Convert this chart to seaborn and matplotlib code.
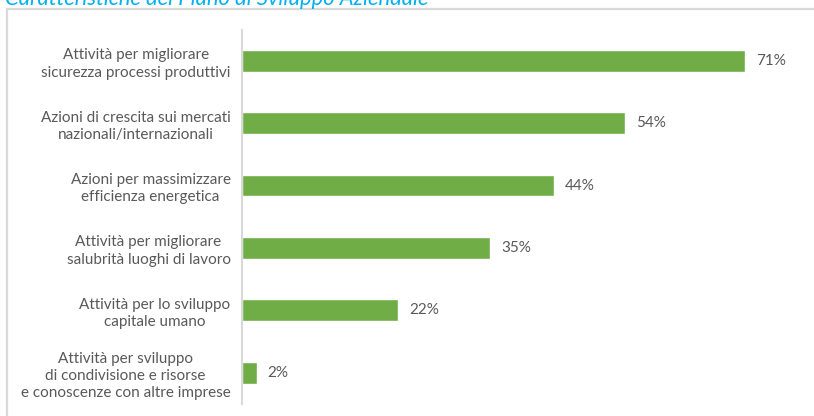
import matplotlib
matplotlib.use("Agg")
import matplotlib.pyplot as plt
import seaborn as sns
import pandas as pd
from matplotlib.patches import Rectangle

categorie = [
    "Attività per migliorare\nsicurezza processi produttivi",
    "Azioni di crescita sui mercati\nnazionali/internazionali",
    "Azioni per massimizzare\nefficienza energetica",
    "Attività per migliorare\nsalubrità luoghi di lavoro",
    "Attività per lo sviluppo\ncapitale umano",
    "Attività per sviluppo\ndi condivisione e risorse\ne conoscenze con altre imprese",
]
percentuali = [71, 54, 44, 35, 22, 2]
titolo = "Caratteristiche del Piano di Sviluppo Aziendale"

df = pd.DataFrame({"categoria": categorie, "valore": percentuali})

sns.set_theme(style="white")
plt.rcParams["font.family"] = ["Lato", "DejaVu Sans"]

W, H = 814, 416
fig = plt.figure(figsize=(W / 100, H / 100), dpi=100)

# outer frame of the chart area
fig.patches.append(Rectangle((7 / W, -0.05), 1.1, 1 - 8.5 / H + 0.05,
                             transform=fig.transFigure, fill=False,
                             edgecolor="#D9D9D9", linewidth=1.6))

fig.text(5 / W, 1 - 5 / H, titolo, color="#00B0F0", fontsize=15.8,
         style="italic", ha="left", va="baseline")

left, right = 242.5 / W, 809 / W
top, bottom = 1 - 29.5 / H, 1 - 404 / H
ax = fig.add_axes([left, bottom, right - left, top - bottom])

sns.barplot(data=df, x="valore", y="categoria", orient="h", color="#70AD47",
            saturation=1, width=0.35, ax=ax)
ax.set_xlim(0, 80)
ax.set_ylim(len(categorie) - 0.5, -0.5)

for c in ax.containers:
    ax.bar_label(c, labels=[f"{v}%" for v in percentuali], padding=8,
                 color="#595959", fontsize=11)

ax.set_xlabel("")
ax.set_ylabel("")
ax.set_xticks([])
ax.tick_params(axis="y", length=0, pad=8.6, labelsize=11, labelcolor="#595959")
for lbl in ax.get_yticklabels():
    lbl.set_multialignment("center")
    lbl.set_linespacing(1.3)
for s in ["top", "right", "bottom"]:
    ax.spines[s].set_visible(False)
ax.spines["left"].set_color("#D9D9D9")
ax.spines["left"].set_linewidth(1.5)

fig.savefig("out.png", dpi=100)
